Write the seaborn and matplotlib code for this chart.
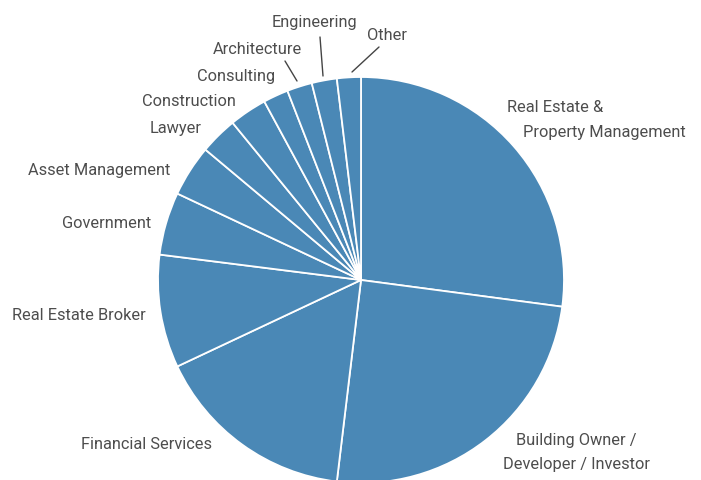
import matplotlib
matplotlib.use("Agg")
import matplotlib.pyplot as plt
import seaborn as sns

sns.set_theme(style="white")
plt.rcParams['font.family'] = ['Roboto', 'DejaVu Sans']

categories = ["Real Estate &\nProperty Management", "Building Owner /\nDeveloper / Investor",
              "Financial Services", "Real Estate Broker", "Government", "Asset Management",
              "Lawyer", "Construction", "Consulting", "Architecture", "Engineering", "Other"]
shares = [27.1, 24.8, 16.1, 9.0, 5.0, 4.1, 3.0, 3.0, 2.0, 2.0, 2.0, 1.9]

W, H = 701, 481
fig = plt.figure(figsize=(W / 100, H / 100), dpi=100)
ax = fig.add_axes([0, 0, 1, 1])
color = "#4a88b6"
ax.pie(shares, colors=[color] * len(shares), startangle=90, counterclock=False,
       center=(361, H - 281), radius=203,
       wedgeprops=dict(edgecolor="white", linewidth=1.3))
ax.set_xlim(0, W)
ax.set_ylim(0, H)
ax.set_aspect("equal")
ax.axis("off")

tc = "#4d4d4d"
fs = 11.8
# label placements (pixel coords, top-left origin)
lines = [
    ("Real Estate &", 507, 107),
    ("Property Management", 523, 132),
    ("Building Owner /", 516, 441),
    ("Developer / Investor", 503, 465),
    ("Financial Services", 81, 445),
    ("Real Estate Broker", 12, 315),
    ("Government", 62, 223),
    ("Asset Management", 28, 171),
    ("Lawyer", 150, 129),
    ("Construction", 142, 101),
    ("Consulting", 197, 76),
    ("Architecture", 213, 49),
    ("Engineering", 272, 22),
    ("Other", 367, 36),
]
for txt, x, y in lines:
    ax.text(x, H - y, txt, ha="left", va="center", fontsize=fs, color=tc)

leaders = [((285, 62), (297, 82)), ((320, 38), (323, 77)), ((379, 48), (352, 73))]
for (x1, y1), (x2, y2) in leaders:
    ax.plot([x1, x2], [H - y1, H - y2], color="#444444", linewidth=1.0)

fig.savefig("out.png", dpi=100, facecolor="white")
